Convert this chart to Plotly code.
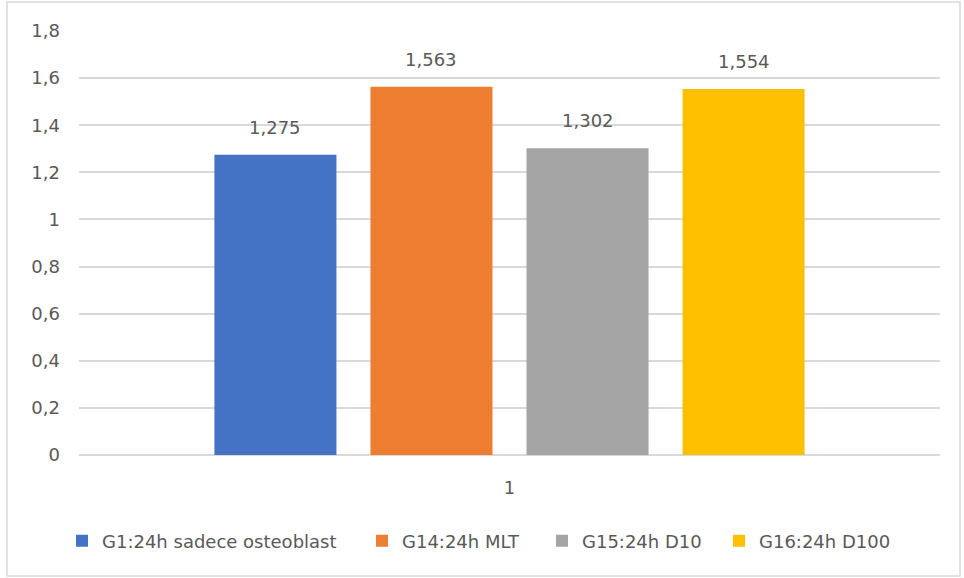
import plotly.graph_objects as go

# Data
categories = ["1"]
series_names = [
    "G1:24h sadece osteoblast",
    "G14:24h MLT",
    "G15:24h D10",
    "G16:24h D100",
]
series_values = [1.275, 1.563, 1.302, 1.554]
series_colors = ["#4472C4", "#ED7D31", "#A5A5A5", "#FFC000"]
y_ticks = [0, 0.2, 0.4, 0.6, 0.8, 1.0, 1.2, 1.4, 1.6, 1.8]

# left edge (px) of each legend entry along the bottom row
legend_left_px = [86, 386, 566, 743]

W, H = 964, 578
M_L, M_R, M_T, M_B = 79, 24, 31, 123
BARGAP = 0.275
BARGROUPGAP = 0.218

FONT = "DejaVu Sans, Verdana, sans-serif"
TEXT_COLOR = "#595959"
GRID_COLOR = "#D9D9D9"

plot_w = W - M_L - M_R
plot_h = H - M_T - M_B

fig = go.Figure()
legend_ids = ["legend", "legend2", "legend3", "legend4"]
for name, val, col, lg in zip(series_names, series_values, series_colors, legend_ids):
    fig.add_trace(go.Bar(
        x=categories, y=[val], name=name, legend=lg,
        marker=dict(color=col, line=dict(width=0)),
    ))

# value labels above each bar, offset to the bar's slot within the group
slot = plot_w * (1 - BARGAP) / len(series_values)
for i, val in enumerate(series_values):
    fig.add_annotation(
        x=0, y=val, xref="x", yref="y",
        text=f"{val:.3f}".replace(".", ","),
        showarrow=False, yanchor="bottom",
        xshift=(i - (len(series_values) - 1) / 2) * slot,
        yshift=15,
        font=dict(family=FONT, size=18, color=TEXT_COLOR),
    )

# chart-area border
fig.add_shape(
    type="rect", xref="paper", yref="paper",
    x0=(7 - M_L) / plot_w, x1=(960 - M_L) / plot_w,
    y0=-(576 - (H - M_B)) / plot_h, y1=1 + (M_T - 2) / plot_h,
    line=dict(color=GRID_COLOR, width=1.5), fillcolor="rgba(0,0,0,0)",
    layer="below",
)

# one legend box per series, placed along a single row
LEG_OFFSET = 24
legend_y = -(541 - (H - M_B)) / plot_h
legends = {}
for lg, px in zip(legend_ids, legend_left_px):
    legends[lg] = dict(
        orientation="h", x=(px - LEG_OFFSET - M_L) / plot_w, xanchor="left",
        y=legend_y, yanchor="middle",
        font=dict(family=FONT, size=18, color=TEXT_COLOR),
        itemwidth=30, bgcolor="rgba(0,0,0,0)",
    )

fig.update_layout(
    width=W, height=H,
    margin=dict(l=M_L, r=M_R, t=M_T, b=M_B),
    paper_bgcolor="white", plot_bgcolor="white",
    separators=",.",
    barmode="group", bargap=BARGAP, bargroupgap=BARGROUPGAP,
    font=dict(family=FONT, size=18, color=TEXT_COLOR),
    showlegend=True,
    xaxis=dict(
        type="category", range=[-0.5, 0.5],
        showgrid=False, showline=False, zeroline=False,
        ticks="", ticklabelstandoff=20,
        tickfont=dict(family=FONT, size=18, color=TEXT_COLOR),
    ),
    yaxis=dict(
        range=[0, 1.8], tickvals=y_ticks,
        showgrid=True, gridcolor=GRID_COLOR, gridwidth=1.5,
        zeroline=True, zerolinecolor=GRID_COLOR, zerolinewidth=1.5,
        showline=False, ticks="", ticklabelstandoff=18,
        tickfont=dict(family=FONT, size=18, color=TEXT_COLOR),
    ),
    **legends,
)

fig.write_html("out.html")
